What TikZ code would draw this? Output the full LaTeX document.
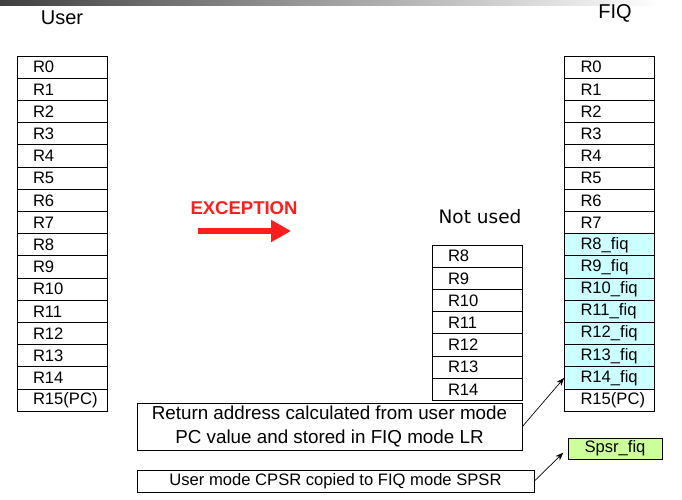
\documentclass[tikz,border=0pt]{standalone}
\usepackage{fontspec}
\setmainfont{Liberation Sans}
\newfontfamily\titlefont{DejaVu Sans}
\usetikzlibrary{arrows.meta}
\definecolor{fiqcyan}{RGB}{204,255,255}
\definecolor{spsrgreen}{RGB}{204,255,153}
\definecolor{excred}{RGB}{255,30,30}
\tikzset{
  reg/.style={draw=black,line width=0.8pt,minimum height=22.2pt,inner xsep=16pt,inner ysep=0pt,
    text width=58pt,align=left,font=\fontsize{16.6}{18}\selectfont},
  modetitle/.style={font=\fontsize{20}{24}\selectfont},
  notebox/.style={draw=black,line width=0.9pt,align=center,inner sep=0pt},
  ptr/.style={-{Stealth[length=8pt,width=6pt]},line width=0.7pt}
}
\begin{document}
\begin{tikzpicture}[x=1pt,y=-1pt]
\useasboundingbox (0,0) rectangle (682,499);
\shade[left color=black!75,right color=white] (0,0) rectangle (660,5);

% titles
\node[modetitle] (user) at (62,18) {User};
\node[modetitle] (fiq) at (615,13) {FIQ};
\node[font=\titlefont\fontsize{18.5}{22}\selectfont] (unused) at (480,217) {Not used};

% user mode registers
\foreach \i/\t in {0/R0,1/R1,2/R2,3/R3,4/R4,5/R5,6/R6,7/R7,8/R8,9/R9,10/R10,11/R11,12/R12,13/R13,14/R14,15/R15(PC)}
  \node[reg] (u\i) at (62,67.1+22.2*\i) {\t};

% fiq mode registers
\foreach \i/\t/\c in {0/R0/white,1/R1/white,2/R2/white,3/R3/white,4/R4/white,5/R5/white,6/R6/white,7/R7/white,
    8/R8\_fiq/fiqcyan,9/R9\_fiq/fiqcyan,10/R10\_fiq/fiqcyan,11/R11\_fiq/fiqcyan,12/R12\_fiq/fiqcyan,
    13/R13\_fiq/fiqcyan,14/R14\_fiq/fiqcyan,15/R15(PC)/white}
  \node[reg,fill=\c] (f\i) at (609.5,67.1+22.2*\i) {\t};

% banked-out user registers
\foreach \i in {8,...,14}
  \node[reg] (n\i) at (477,256.1+22.2*\i-177.6) {R\i};

% exception arrow
\node[text=excred,font=\bfseries\fontsize{18.5}{21}\selectfont] (exc) at (244,208) {EXCEPTION};
\coordinate (ea) at (198,231);
\coordinate (eb) at (291,231);
\draw[excred,line width=6.5pt,-{Triangle[length=20pt,width=21pt]}] (ea) -- (eb);

% notes
\node[notebox,minimum width=385pt,minimum height=47pt,font=\fontsize{18.8}{23.5}\selectfont] (ret) at (329.5,426.5)
  {Return address calculated from user mode\\PC value and stored in FIQ mode LR};
\node[notebox,minimum width=397pt,minimum height=22pt,font=\fontsize{16.6}{18}\selectfont] (cpsr) at (335.5,481)
  {User mode CPSR copied to FIQ mode SPSR};
\node[notebox,fill=spsrgreen,minimum width=94pt,minimum height=21pt,font=\fontsize{16.6}{18}\selectfont] (spsr) at (615,448.5)
  {Spsr\_fiq};

\draw[ptr] (ret.east) -- (f14.west);
\draw[ptr,shorten >=6pt] (cpsr.east) -- (spsr.west);
\end{tikzpicture}
\end{document}
